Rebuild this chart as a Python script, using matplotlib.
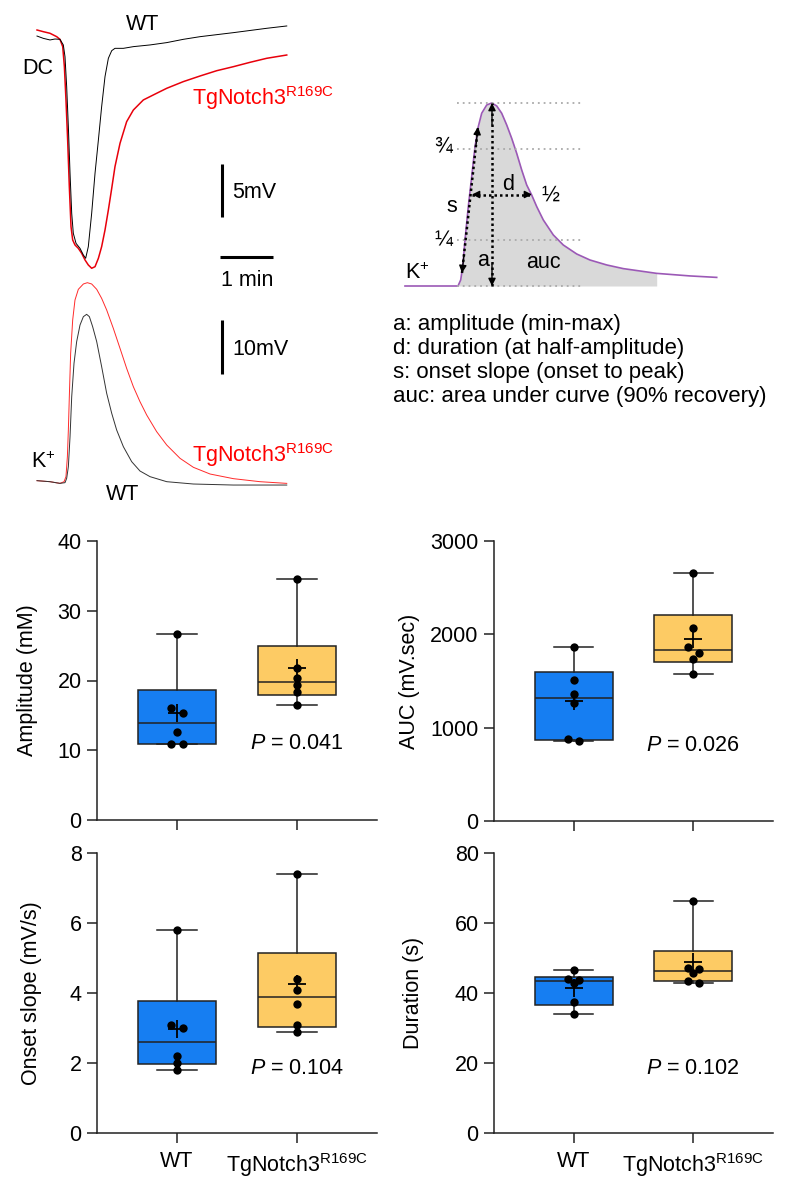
import matplotlib
matplotlib.use("Agg")
import matplotlib.pyplot as plt
import numpy as np

plt.rcParams['font.family'] = ['Liberation Sans', 'DejaVu Sans']
plt.rcParams['mathtext.fontset'] = 'custom'
plt.rcParams['mathtext.rm'] = 'Liberation Sans'
plt.rcParams['mathtext.it'] = 'Liberation Sans:italic'
plt.rcParams['font.size'] = 15.5

# ---- data ----
groups = ['WT', 'TgNotch3$^{\\mathrm{R169C}}$']

amp_wt = [26.7, 16.0, 15.3, 12.6, 10.9, 10.9]
amp_tg = [34.5, 21.8, 20.4, 19.3, 18.3, 16.5]
auc_wt = [1866, 1512, 1359, 1269, 876, 858]
auc_tg = [2653, 2063, 1859, 1795, 1741, 1580]
slope_wt = [5.80, 3.10, 2.99, 2.20, 2.01, 1.80]
slope_tg = [7.41, 4.40, 4.09, 3.70, 3.09, 2.89]
dur_wt = [46.5, 44.0, 43.8, 43.0, 37.4, 34.1]
dur_tg = [66.2, 47.1, 46.9, 45.8, 43.5, 43.0]
p_values = ['0.041', '0.026', '0.104', '0.102']

# DC shift traces (time s, mV)
dc_t_wt = [0, 7.2, 14.7, 20.4, 26.0, 29.8, 31.7, 33.6, 35.5, 37.4, 39.3, 41.1, 44.2, 48.7,
           52.5, 55.1, 58.1, 61.9, 65.7, 69.5, 73.2, 77.0, 80.8, 84.6, 88.3, 97.8, 109.1,
           128.0, 146.9, 165.7, 184.6, 222.4, 260.1, 282.8]
dc_v_wt = [0.09, -0.13, -0.28, -0.19, -0.22, -0.75, -1.86, -4.69, -8.46, -12.86, -16.64,
           -18.52, -19.47, -19.94, -20.57, -20.88, -19.78, -16.64, -12.86, -9.72, -6.57,
           -3.74, -2.01, -1.29, -1.07, -1.07, -0.91, -0.75, -0.53, -0.22, 0.03, 0.41, 0.82, 1.04]
dc_t_tg = [0, 7.2, 14.7, 22.3, 26.0, 29.1, 31.0, 32.8, 34.7, 36.6, 38.5, 40.4, 43.0, 46.8,
           50.6, 54.4, 58.1, 61.9, 65.7, 69.5, 73.2, 77.0, 80.8, 84.6, 88.3, 94.0, 101.5,
           109.1, 120.4, 135.5, 146.9, 165.7, 184.6, 203.5, 222.4, 241.2, 260.1, 282.8]
dc_v_tg = [0.66, 0.50, 0.35, 0.03, -0.22, -0.91, -2.80, -5.94, -9.72, -14.12, -17.89,
           -19.15, -19.62, -19.94, -20.41, -21.04, -21.51, -21.82, -21.67, -20.88, -19.78,
           -18.21, -16.32, -14.28, -12.23, -10.03, -7.99, -6.89, -5.94, -5.31, -4.84, -4.21,
           -3.68, -3.18, -2.80, -2.39, -2.01, -1.70]

# K+ signal traces (time s, mV)
k_t_wt = [0, 14.7, 26.0, 31.7, 33.6, 35.5, 37.4, 39.3, 41.9, 44.9, 48.7, 52.5, 56.2, 59.3,
          63.0, 67.6, 73.2, 78.9, 84.6, 90.2, 97.8, 107.2, 116.6, 128.0, 146.9, 177.1,
          222.4, 282.8]
k_v_wt = [0.25, 0.06, -0.25, -0.12, 0.68, 2.84, 8.40, 15.80, 21.98, 25.99, 29.07, 30.62,
          31.05, 30.62, 28.77, 25.99, 21.36, 16.42, 12.72, 9.63, 6.54, 3.77, 2.04, 0.99,
          0.06, -0.37, -0.56, -0.56]
k_t_tg = [0, 14.7, 26.0, 30.6, 32.8, 34.4, 35.5, 36.6, 38.1, 40.4, 43.0, 46.8, 52.5, 57.0,
          61.9, 67.6, 73.2, 78.9, 86.4, 94.0, 101.5, 109.1, 116.6, 124.2, 135.5, 146.9,
          162.0, 177.1, 196.0, 222.4, 252.5, 282.8]
k_v_tg = [0.25, 0.06, -0.25, 0.06, 0.99, 4.69, 9.63, 15.80, 23.83, 30.0, 33.70, 35.68,
          36.67, 36.91, 36.67, 35.68, 34.01, 31.85, 28.46, 24.75, 21.05, 17.65, 14.88,
          12.41, 9.32, 6.85, 4.38, 2.72, 1.48, 0.62, 0.06, -0.25]

# schematic trace (a.u. time, fraction of amplitude)
sch_t = [-53, 0, 2.7, 4.7, 7.0, 10.3, 13.7, 17.0, 20.3, 23.7, 28.7, 33.7, 38.7, 43.7, 48.7,
         53.7, 58.7, 63.7, 68.7, 73.7, 78.7, 85.3, 95.3, 105.3, 118.7, 132.0, 148.7, 165.3,
         198.7, 232.0, 258.7]
sch_v = [0, 0, 0.033, 0.106, 0.251, 0.434, 0.597, 0.761, 0.871, 0.944, 0.989, 1.0, 0.984,
         0.944, 0.880, 0.807, 0.725, 0.634, 0.552, 0.497, 0.434, 0.361, 0.279, 0.224,
         0.175, 0.142, 0.115, 0.095, 0.069, 0.055, 0.047]

legend_lines = ['a: amplitude (min-max)', 'd: duration (at half-amplitude)',
                's: onset slope (onset to peak)', 'auc: area under curve (90% recovery)']

W, H = 791, 1191
fig = plt.figure(figsize=(W / 100, H / 100), dpi=100)


def px_axes(x0, y0, x1, y1):
    return fig.add_axes([x0 / W, 1 - y1 / H, (x1 - x0) / W, (y1 - y0) / H])


def ftext(x, y, s, **kw):
    fig.text(x / W, 1 - y / H, s, **kw)


# ---- top left: traces ----
ax_dc = px_axes(0, 0, 300, 290)
ax_dc.set_xlim(-41.9, 297.8)
ax_dc.set_ylim(-23.87, 3.49)
ax_dc.axis('off')
ax_dc.plot(dc_t_tg, dc_v_tg, color='#e8000b', lw=1.1)
ax_dc.plot(dc_t_wt, dc_v_wt, color='black', lw=0.7)
ax_dc.plot([209.5, 209.5], [-12, -17], color='black', lw=2.2, solid_capstyle='butt')
ax_dc.plot([207, 267], [-20.75, -20.75], color='black', lw=2.2, solid_capstyle='butt')

ax_k = px_axes(0, 270, 300, 500)
ax_k.set_xlim(-41.9, 297.8)
ax_k.set_ylim(-3.33, 39.26)
ax_k.axis('off')
ax_k.plot(k_t_tg, k_v_tg, color='#ff2a2a', lw=0.7)
ax_k.plot(k_t_wt, k_v_wt, color='#333333', lw=0.7)
ax_k.plot([209.5, 209.5], [30, 20], color='black', lw=2.2, solid_capstyle='butt')

ftext(143, 25, 'WT', ha='center', va='center')
ftext(38, 68, 'DC', ha='center', va='center')
ftext(192, 98, groups[1], color='#ff0000', ha='left', va='center')
ftext(232, 193, '5mV', ha='left', va='center')
ftext(247, 280, '1 min', ha='center', va='center')
ftext(232, 350, '10mV', ha='left', va='center')
ftext(43, 462, 'K$^{+}$', ha='center', va='center')
ftext(192, 455, groups[1], color='#ff0000', ha='left', va='center')
ftext(123, 494, 'WT', ha='center', va='center')

# ---- top right: schematic ----
ax_s = px_axes(390, 80, 780, 300)
ax_s.set_xlim(-68, 322)
ax_s.set_ylim(-0.0765, 1.1257)
ax_s.axis('off')
st = np.array(sch_t)
sv = np.array(sch_v)
m = (st >= 0) & (st <= 199)
ax_s.fill_between(st[m], sv[m], 0, color='#d9d9d9', lw=0)
ax_s.plot(st, sv, color='#9b59b6', lw=1.2)
for lvl in [0, 0.25, 0.75, 1.0]:
    ax_s.plot([-1, 124], [lvl, lvl], ls=(0, (1, 2.2)), color='#aaaaaa', lw=1.3)


def dotted_arrow(ax, p0, p1):
    ax.plot([p0[0], p1[0]], [p0[1], p1[1]], ls=(0, (1, 1.2)), color='black', lw=1.8)
    for a, b in [(p0, p1), (p1, p0)]:
        ax.annotate('', xy=a, xytext=(a[0] + (b[0] - a[0]) * 0.12, a[1] + (b[1] - a[1]) * 0.12),
                    arrowprops=dict(arrowstyle='-|>', color='black', lw=1, mutation_scale=11,
                                    shrinkA=0, shrinkB=0))


dotted_arrow(ax_s, (34, 0), (34, 1))
dotted_arrow(ax_s, (4, 0.071), (20, 0.869))
dotted_arrow(ax_s, (14, 0.5), (74, 0.5))
for tx, ty, s in [(-15, 0.754, '¾'), (92, 0.497, '½'), (-15, 0.251, '¼'), (-6, 0.432, 's'),
                  (50, 0.552, 'd'), (25, 0.142, 'a'), (85, 0.126, 'auc'), (-41, 0.071, 'K$^{+}$')]:
    ax_s.text(tx, ty, s, ha='center', va='center')

for i, line in enumerate(legend_lines):
    ftext(393, 324 + 24.3 * i, line, ha='left', va='center', fontsize=16)

# ---- bottom: box plots ----
box_colors = ['#167ef2', '#fdcb64']
edge = '#222222'


def swarm_offsets(vals, ymax, hpx=280, thr=6.5, d=0.0475):
    vals = np.asarray(vals, dtype=float)
    order = np.argsort(vals)[::-1]
    scale = hpx / ymax
    clusters = []
    for i in order:
        if clusters and (vals[clusters[-1][-1]] - vals[i]) * scale < thr:
            clusters[-1].append(i)
        else:
            clusters.append([i])
    offs = np.zeros(len(vals))
    pattern = [-1, 1, 0, -2, 2]
    for c in clusters:
        if len(c) == 1:
            continue
        for j, k in enumerate(c):
            offs[k] = pattern[j] * d
    return offs


panels = [
    (amp_wt, amp_tg, 40, [0, 10, 20, 30, 40], 'Amplitude (mM)', (97, 541, 377, 820), -0.21, 0.275, False),
    (auc_wt, auc_tg, 3000, [0, 1000, 2000, 3000], 'AUC (mV.sec)', (494, 541, 773, 821), -0.265, 0.268, False),
    (slope_wt, slope_tg, 8, [0, 2, 4, 6, 8], 'Onset slope (mV/s)', (97, 853, 377, 1133), -0.198, 0.232, True),
    (dur_wt, dur_tg, 80, [0, 20, 40, 60, 80], 'Duration (s)', (494, 853, 773, 1133), -0.25, 0.232, True),
]

for k, (wt, tg, ymax, yt, ylab, box, lx, py, show_x) in enumerate(panels):
    ax = px_axes(*box)
    for i, vals in enumerate([wt, tg]):
        v = np.asarray(vals, dtype=float)
        q1, med, q3 = np.percentile(v, [25, 50, 75], method='weibull')
        stats = dict(med=med, q1=q1, q3=q3, whislo=v.min(), whishi=v.max(), mean=v.mean())
        ax.bxp([stats], positions=[i], widths=0.65, capwidths=0.33, patch_artist=True,
               showmeans=True, showfliers=False, manage_ticks=False,
               boxprops=dict(facecolor=box_colors[i], edgecolor=edge, lw=1.1),
               medianprops=dict(color=edge, lw=1.1),
               whiskerprops=dict(color=edge, lw=1.1),
               capprops=dict(color=edge, lw=1.1),
               meanprops=dict(marker='+', markersize=13, markeredgecolor='black',
                              markeredgewidth=1.3, zorder=5))
        ax.scatter(i + swarm_offsets(v, ymax), v, s=36, color='black', zorder=4, lw=0)
    ax.set_xlim(-0.667, 1.667)
    ax.set_ylim(0, ymax)
    ax.set_yticks(yt)
    ax.set_xticks([0, 1])
    ax.set_xticklabels(groups if show_x else ['', ''])
    for s in ['top', 'right']:
        ax.spines[s].set_visible(False)
    for s in ['left', 'bottom']:
        ax.spines[s].set_linewidth(1.1)
        ax.spines[s].set_color(edge)
    ax.tick_params(length=7, width=1.1, color=edge, labelsize=15.5, pad=4)
    ax.tick_params(axis='x', pad=6)
    ax.set_ylabel(ylab, fontsize=15.5)
    ax.yaxis.set_label_coords(lx, 0.5)
    ax.text(1, py * ymax, '$P$ = ' + p_values[k], ha='center', va='center')

fig.savefig('out.png', dpi=100)
